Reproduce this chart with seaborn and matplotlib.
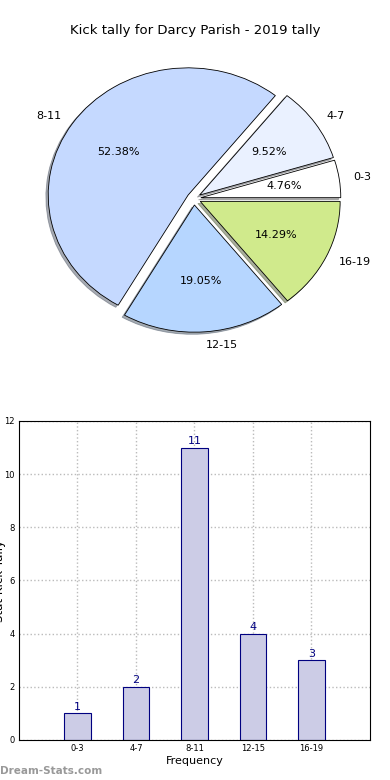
import numpy as np
import pandas as pd
import seaborn as sns
import matplotlib
matplotlib.use("Agg")
import matplotlib.pyplot as plt

# data
bins = ['0-3', '4-7', '8-11', '12-15', '16-19']
counts = [1, 2, 11, 4, 3]
pie_colors = ['#FFFFFF', '#EAF1FF', '#C5D9FF', '#B6D6FF', '#D0EA8C']
explode = [0.05, 0.05, 0.05, 0.05, 0.05]

sns.set_style('white')
plt.rcParams['font.family'] = ['DejaVu Sans']
plt.rcParams['text.color'] = 'black'
plt.rcParams['axes.labelcolor'] = 'black'
plt.rcParams['xtick.color'] = 'black'
plt.rcParams['ytick.color'] = 'black'

fig = plt.figure(figsize=(3.9, 7.8), dpi=100)

# pie chart
ax1 = fig.add_axes([0.0487, 0.5415, 0.897, 0.4077])
wedges, texts, autotexts = ax1.pie(counts, labels=bins, colors=pie_colors, explode=explode,
                                   autopct='%1.2f%%', startangle=0,
                                   shadow={'ox': -0.012, 'oy': -0.012, 'shade': 0.6},
                                   wedgeprops={'edgecolor': 'black', 'linewidth': 0.6},
                                   textprops={'fontsize': 8, 'color': 'black'})
ax1.set_aspect('auto')
ax1.set_xlim(-1.25, 1.25)
ax1.set_ylim(-1.25, 1.25)
fig.text(0.5, 0.9615, 'Kick tally for Darcy Parish - 2019 tally', ha='center', va='center', fontsize=9.5)

# bar chart
df = pd.DataFrame({'bin': bins, 'count': counts})
ax2 = fig.add_axes([0.0487, 0.0513, 0.9, 0.409])
sns.barplot(data=df, x='bin', y='count', order=bins, color='#CCCCE6', saturation=1,
            edgecolor='#000080', linewidth=0.8, width=0.45, ax=ax2, zorder=2)
for container in ax2.containers:
    ax2.bar_label(container, fmt='%d', padding=1, fontsize=8, color='#000080')

ax2.set_xlim(-1, 5)
ax2.set_ylim(0, 12)
ax2.set_yticks(range(0, 13, 2))
ax2.grid(True, linestyle=':', color='#BBBBBB', linewidth=1, zorder=0)
ax2.set_axisbelow(True)
ax2.tick_params(labelsize=6, length=0, pad=3)
ax2.set_xlabel('Frequency', fontsize=8, labelpad=2)
ax2.set_ylabel('Stat Kick Tally', fontsize=8.5, labelpad=-1)
for s in ax2.spines.values():
    s.set_color('black')
    s.set_linewidth(0.8)

fig.text(0.0, 0.005, 'Dream-Stats.com', fontsize=7.5, color='#999999', fontweight='bold', ha='left', va='bottom')

plt.savefig('out.png', dpi=100)
